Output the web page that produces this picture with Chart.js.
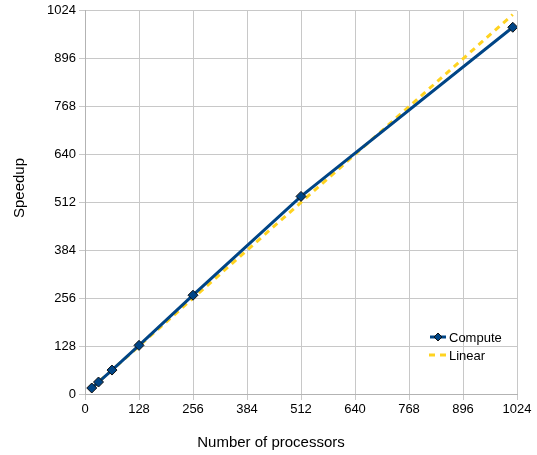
<!DOCTYPE html>
<html>
<head>
    <meta charset="utf-8">
    <script src="https://cdn.jsdelivr.net/npm/chart.js@4/dist/chart.umd.min.js"></script>
    <style>
        html, body { margin: 0; padding: 0; background: #fff; }
        #wrap { width: 537px; height: 455px; }
    </style>
</head>
<body>
<div id="wrap">
    <canvas id="myChart" width="537" height="455"></canvas>
</div>

<script>
    // values
    var processors = [16, 32, 64, 128, 256, 512, 1014];
    var computeSpeedup = [16, 32, 64, 130, 264, 528, 980];
    var linearSpeedup = [16, 32, 64, 128, 256, 512, 1014];
    var tickValues = [0, 128, 256, 384, 512, 640, 768, 896, 1024];
    var xTitle = 'Number of processors';
    var yTitle = 'Speedup';

    function toPoints(xs, ys) {
        var pts = [];
        for (var i = 0; i < xs.length; i++)
            pts.push({x: xs[i], y: ys[i]});
        return pts;
    }

    var fontFamily = "'Liberation Sans', Arial, sans-serif";
    var font = {family: fontFamily, size: 13};

    // axis titles and the legend drawn inside the plot, bottom right
    var extras = {
        id: 'extras',
        afterDraw: function (chart) {
            var ctx = chart.ctx;
            ctx.save();
            ctx.fillStyle = '#000';
            ctx.textAlign = 'center';
            ctx.textBaseline = 'middle';
            ctx.font = '15px ' + fontFamily;
            ctx.fillText(xTitle, 271, 443);
            ctx.save();
            ctx.translate(20, 188);
            ctx.rotate(-Math.PI / 2);
            ctx.fillText(yTitle, 0, 0);
            ctx.restore();

            var x = chart.chartArea.right - 87;
            var y = chart.chartArea.bottom - 57;
            ctx.textAlign = 'left';
            ctx.font = '13px ' + fontFamily;
            // compute entry
            ctx.strokeStyle = '#004586';
            ctx.lineWidth = 3;
            ctx.beginPath();
            ctx.moveTo(x, y); ctx.lineTo(x + 16, y);
            ctx.stroke();
            ctx.fillStyle = '#004586';
            ctx.strokeStyle = '#111';
            ctx.lineWidth = 1;
            ctx.beginPath();
            ctx.moveTo(x + 8, y - 4); ctx.lineTo(x + 12, y);
            ctx.lineTo(x + 8, y + 4); ctx.lineTo(x + 4, y);
            ctx.closePath();
            ctx.fill(); ctx.stroke();
            ctx.fillStyle = '#000';
            ctx.fillText(chart.data.datasets[0].label, x + 19, y + 1);
            // linear entry
            y += 18;
            ctx.strokeStyle = '#ffd320';
            ctx.lineWidth = 3;
            ctx.setLineDash([6, 5]);
            ctx.beginPath();
            ctx.moveTo(x - 1, y); ctx.lineTo(x + 17, y);
            ctx.stroke();
            ctx.setLineDash([]);
            ctx.fillText(chart.data.datasets[1].label, x + 19, y + 1);
            ctx.restore();
        }
    };

    function plainTick(value) { return String(value); }

    var ctx = document.getElementById("myChart");
    var myChart = new Chart(ctx, {
        type: 'line',
        data: {
            datasets: [
                {
                    label: 'Compute',
                    data: toPoints(processors, computeSpeedup),
                    borderColor: '#004586',
                    backgroundColor: '#004586',
                    borderWidth: 3,
                    pointStyle: 'rectRot',
                    pointRadius: 5,
                    pointBorderColor: '#111',
                    pointBorderWidth: 1,
                    pointBackgroundColor: '#004586',
                    order: 1
                },
                {
                    label: 'Linear',
                    data: toPoints(processors, linearSpeedup),
                    borderColor: '#ffd320',
                    borderWidth: 3,
                    borderDash: [6, 5],
                    pointRadius: 0,
                    order: 2
                }]
        },
        options: {
            responsive: false,
            animation: false,
            layout: {
                padding: {left: 0, top: 10, right: 20, bottom: 0}
            },
            plugins: {
                legend: {display: false},
                tooltip: {enabled: false}
            },
            scales: {
                x: {
                    type: 'linear',
                    min: 0,
                    max: 1024,
                    afterBuildTicks: function (axis) {
                        axis.ticks = tickValues.map(function (v) { return {value: v}; });
                    },
                    afterFit: function (axis) { axis.height = 61; },
                    grid: {color: '#c8c8c8', lineWidth: 1, tickLength: 6},
                    border: {color: '#b3b3b3'},
                    ticks: {color: '#000', font: font, padding: 2, maxRotation: 0, callback: plainTick}
                },
                y: {
                    type: 'linear',
                    min: 0,
                    max: 1024,
                    afterBuildTicks: function (axis) {
                        axis.ticks = tickValues.map(function (v) { return {value: v}; });
                    },
                    afterFit: function (axis) { axis.width = 85; },
                    grid: {color: '#c8c8c8', lineWidth: 1, tickLength: 6},
                    border: {color: '#b3b3b3'},
                    ticks: {color: '#000', font: font, padding: 3, callback: plainTick}
                }
            }
        },
        plugins: [extras]
    });
</script>
</body>
</html>
